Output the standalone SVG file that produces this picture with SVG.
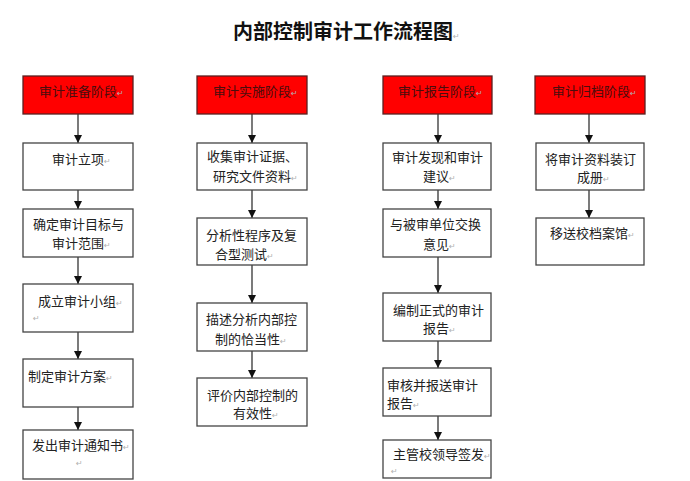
<svg xmlns="http://www.w3.org/2000/svg" width="690" height="481" viewBox="0 0 690 481">
<style>
.t{font-family:"Noto Sans CJK SC","Liberation Sans",sans-serif;font-size:13px;fill:#222}
.h{font-family:"Noto Sans CJK SC","Liberation Sans",sans-serif;font-size:13px;fill:#4a0d0d}
.title{font-family:"Noto Sans CJK SC","Liberation Sans",sans-serif;font-size:20px;font-weight:bold;fill:#111}
.pm{font-family:"DejaVu Sans",sans-serif;font-size:8px;fill:#b0b0b0}
.box{fill:#fff;stroke:#444;stroke-width:1.3}
.hdr{fill:#ff0000;stroke:#5a2020;stroke-width:1.3}
.ln{stroke:#222;stroke-width:1.2;fill:none;marker-end:url(#ah)}
</style>
<defs>
<marker id="ah" markerWidth="8" markerHeight="8" refX="8" refY="4" orient="auto" markerUnits="userSpaceOnUse">
<path d="M0,0 L8,4 L0,8 Z" fill="#111"/>
</marker>
</defs>
<rect width="690" height="481" fill="#fff"/>
<text class="title" x="233" y="39">内部控制审计工作流程图<tspan class="pm" font-weight="normal">↵</tspan></text>

<g id="connectors">
<path class="ln" d="M78,114 V143"/>
<path class="ln" d="M78,190 V209"/>
<path class="ln" d="M78,257 V284"/>
<path class="ln" d="M78,332 V359"/>
<path class="ln" d="M78,407 V430"/>
<path class="ln" d="M252,114 V143"/>
<path class="ln" d="M252,190 V218"/>
<path class="ln" d="M252,265 V303"/>
<path class="ln" d="M252,351 V378"/>
<path class="ln" d="M438,114 V143"/>
<path class="ln" d="M438,184 V209"/>
<path class="ln" d="M438,257 V293"/>
<path class="ln" d="M438,341 V368"/>
<path class="ln" d="M438,416 V440"/>
<path class="ln" d="M589,114 V143"/>
<path class="ln" d="M589,190 V218"/>
</g>

<g id="h1"><rect class="hdr" x="23" y="76" width="110" height="38"/><text class="h" x="39" y="96">审计准备阶段<tspan class="pm">↵</tspan></text></g>
<g id="h2"><rect class="hdr" x="197" y="76" width="110" height="38"/><text class="h" x="213" y="96">审计实施阶段<tspan class="pm">↵</tspan></text></g>
<g id="h3"><rect class="hdr" x="383" y="76" width="109" height="38"/><text class="h" x="398" y="96">审计报告阶段<tspan class="pm">↵</tspan></text></g>
<g id="h4"><rect class="hdr" x="535" y="76" width="110" height="38"/><text class="h" x="552" y="96">审计归档阶段<tspan class="pm">↵</tspan></text></g>

<g id="a1"><rect class="box" x="23" y="143" width="110" height="47"/><text class="t" x="52" y="164">审计立项<tspan class="pm">↵</tspan></text></g>
<g id="a2"><rect class="box" x="23" y="209" width="110" height="48"/><text class="t" x="33" y="229">确定审计目标与</text><text class="t" x="52" y="248">审计范围<tspan class="pm">↵</tspan></text></g>
<g id="a3"><rect class="box" x="23" y="284" width="110" height="48"/><text class="t" x="38" y="306">成立审计小组<tspan class="pm">↵</tspan></text><text class="pm" x="33" y="321">↵</text></g>
<g id="a4"><rect class="box" x="23" y="359" width="110" height="48"/><text class="t" x="28" y="381">制定审计方案<tspan class="pm">↵</tspan></text></g>
<g id="a5"><rect class="box" x="23" y="430" width="110" height="49"/><text class="t" x="32" y="450">发出审计通知书<tspan class="pm">↵</tspan></text><text class="pm" x="76" y="466">↵</text></g>

<g id="b1"><rect class="box" x="197" y="143" width="110" height="47"/><text class="t" x="207" y="161">收集审计证据、</text><text class="t" x="213" y="181">研究文件资料<tspan class="pm">↵</tspan></text></g>
<g id="b2"><rect class="box" x="197" y="218" width="110" height="47"/><text class="t" x="206" y="240">分析性程序及复</text><text class="t" x="215" y="259">合型测试<tspan class="pm">↵</tspan></text></g>
<g id="b3"><rect class="box" x="197" y="303" width="110" height="48"/><text class="t" x="206" y="324">描述分析内部控</text><text class="t" x="215" y="344">制的恰当性<tspan class="pm">↵</tspan></text></g>
<g id="b4"><rect class="box" x="197" y="378" width="110" height="48"/><text class="t" x="207" y="400">评价内部控制的</text><text class="t" x="233" y="418">有效性<tspan class="pm">↵</tspan></text></g>

<g id="c1"><rect class="box" x="383" y="143" width="108" height="47"/><text class="t" x="392" y="162">审计发现和审计</text><text class="t" x="423" y="181">建议<tspan class="pm">↵</tspan></text></g>
<g id="c2"><rect class="box" x="383" y="209" width="108" height="48"/><text class="t" x="390" y="229">与被审单位交换</text><text class="t" x="423" y="249">意见<tspan class="pm">↵</tspan></text></g>
<g id="c3"><rect class="box" x="383" y="293" width="108" height="48"/><text class="t" x="393" y="315">编制正式的审计</text><text class="t" x="423" y="333">报告<tspan class="pm">↵</tspan></text></g>
<g id="c4"><rect class="box" x="383" y="368" width="108" height="48"/><text class="t" x="387" y="390">审核并报送审计</text><text class="t" x="387" y="408">报告<tspan class="pm">↵</tspan></text></g>
<g id="c5"><rect class="box" x="383" y="440" width="108" height="38"/><text class="t" x="393" y="459">主管校领导签发<tspan class="pm">↵</tspan></text><text class="pm" x="391" y="474">↵</text></g>

<g id="d1"><rect class="box" x="536" y="143" width="108" height="47"/><text class="t" x="545" y="164">将审计资料装订</text><text class="t" x="577" y="182">成册<tspan class="pm">↵</tspan></text></g>
<g id="d2"><rect class="box" x="536" y="218" width="108" height="47"/><text class="t" x="550" y="238">移送校档案馆<tspan class="pm">↵</tspan></text></g>
</svg>
